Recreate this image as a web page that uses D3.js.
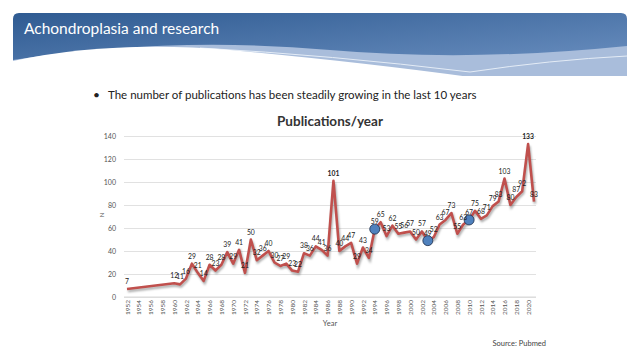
<!DOCTYPE html>
<html>
<head>
<meta charset="utf-8">
<script src="https://cdn.jsdelivr.net/npm/d3@7"></script>
<style>
  body { margin: 0; background: #fff; }
  svg { display: block; font-family: Lato, "Open Sans", sans-serif; }
</style>
</head>
<body>
<svg id="slide" width="640" height="351"></svg>
<script>
// publications per year (Pubmed)
const years = [1952, 1960, 1961, 1962, 1963, 1964, 1965, 1966, 1967, 1968, 1969, 1970,
  1971, 1972, 1973, 1974, 1975, 1976, 1977, 1978, 1979, 1980, 1981, 1982, 1983, 1984,
  1985, 1986, 1987, 1988, 1989, 1990, 1991, 1992, 1993, 1994, 1995, 1996, 1997, 1998,
  1999, 2000, 2001, 2002, 2003, 2004, 2005, 2006, 2007, 2008, 2009, 2010, 2011, 2012,
  2013, 2014, 2015, 2016, 2017, 2018, 2019, 2020, 2021];
const counts = [7, 12, 11, 16, 29, 21, 14, 28, 23, 28, 39, 29,
  41, 21, 50, 32, 36, 40, 30, 27, 29, 23, 22, 38, 36, 44,
  41, 36, 101, 40, 44, 47, 29, 43, 34, 59, 65, 53, 62, 55,
  56, 57, 50, 57, 49, 52, 63, 67, 73, 55, 63, 67, 75, 68,
  71, 79, 83, 103, 80, 87, 92, 133, 83];
const highlightYears = [1994, 2003, 2010];
const yTicks = [0, 20, 40, 60, 80, 100, 120, 140];
const xTicks = d3.range(1952, 2021, 2);

const data = years.map((y, i) => ({ year: y, n: counts[i] }));

const svg = d3.select("#slide");

// ---- header banner ----
const defs = svg.append("defs");
const grad = defs.append("linearGradient").attr("id", "bannerGrad")
  .attr("x1", "0").attr("y1", "0").attr("x2", "1").attr("y2", "1");
grad.append("stop").attr("offset", "0%").attr("stop-color", "#2f5b92");
grad.append("stop").attr("offset", "100%").attr("stop-color", "#7094c4");

const blur = defs.append("filter").attr("id", "shadow");
blur.append("feGaussianBlur").attr("stdDeviation", 1.2);

svg.append("path")
  .attr("d", "M13,76 L13,19 Q13,13 19,13 L621,13 Q627,13 627,19 L627,76 Z")
  .attr("fill", "url(#bannerGrad)");
svg.append("path")
  .attr("d", "M13,76 L13,60 Q170,36 330,50 Q470,62 627,46 L627,76 Z")
  .attr("fill", "#a9bddb");
svg.append("path")
  .attr("d", "M200,48 Q330,55 470,72 Q550,60 627,56")
  .attr("fill", "none").attr("stroke", "#e4ecf6").attr("stroke-width", 1);
svg.append("path")
  .attr("d", "M13,77 L13,61 Q110,40 230,50 Q360,62 470,77 Z")
  .attr("fill", "#fff");
svg.append("rect").attr("x", 0).attr("y", 76).attr("width", 640).attr("height", 10).attr("fill", "#fff");

svg.append("text")
  .attr("x", 24).attr("y", 34)
  .attr("fill", "#fff")
  .style("font-size", "15.5px")
  .text("Achondroplasia and research");

// bullet
svg.append("text").attr("x", 93).attr("y", 99)
  .style("font-size", "12px").attr("fill", "#222").text("•");
svg.append("text").attr("x", 108).attr("y", 99)
  .style("font-size", "11.5px").attr("fill", "#222")
  .text("The number of publications has been steadily growing in the last 10 years");

// ---- chart ----
const x = d3.scaleLinear().domain([1952, 2021]).range([127, 534]);
const y = d3.scaleLinear().domain([0, 140]).range([297, 136]);

svg.append("text")
  .attr("x", 330).attr("y", 126)
  .attr("text-anchor", "middle")
  .style("font-size", "13.5px").style("font-weight", "bold").attr("fill", "#333")
  .text("Publications/year");

// gridlines + y labels
const yAxis = svg.append("g")
  .attr("transform", "translate(124,0)")
  .call(d3.axisLeft(y).tickValues(yTicks).tickSize(-412).tickPadding(8))
  .attr("font-family", "Lato, sans-serif");
yAxis.select(".domain").remove();
yAxis.selectAll(".tick line").attr("stroke", "#d9d9d9").attr("stroke-width", 0.8);
yAxis.selectAll(".tick text").style("font-size", "7px").attr("fill", "#555");

svg.append("text")
  .attr("transform", "translate(104,215) rotate(-90)")
  .attr("text-anchor", "middle")
  .style("font-size", "6px").attr("fill", "#555").text("N");

// x axis
const xAxis = svg.append("g")
  .attr("transform", "translate(0,297)")
  .call(d3.axisBottom(x).tickValues(xTicks).tickFormat(d3.format("d")).tickSize(0))
  .attr("font-family", "Lato, sans-serif");
xAxis.select(".domain").attr("d", "M124,0H536").attr("stroke", "#d9d9d9");
xAxis.selectAll(".tick text")
  .style("font-size", "6.5px").attr("fill", "#555")
  .attr("transform", "rotate(-90)")
  .attr("text-anchor", "end")
  .attr("x", -3).attr("y", 0).attr("dy", "0.32em");

svg.append("text")
  .attr("x", 330).attr("y", 326).attr("text-anchor", "middle")
  .style("font-size", "7.5px").attr("fill", "#555").text("Year");

// line with a soft shadow
const line = d3.line().x(d => x(d.year)).y(d => y(d.n));
svg.append("path").datum(data)
  .attr("d", line)
  .attr("transform", "translate(1,2)")
  .attr("fill", "none").attr("stroke", "rgba(0,0,0,0.35)").attr("stroke-width", 2.5)
  .attr("filter", "url(#shadow)");
svg.append("path").datum(data)
  .attr("d", line)
  .attr("fill", "none").attr("stroke", "#c0504d").attr("stroke-width", 2.6)
  .attr("stroke-linejoin", "round");

// highlighted points
svg.selectAll(".hl")
  .data(data.filter(d => highlightYears.includes(d.year)))
  .enter().append("circle")
  .attr("class", "hl")
  .attr("cx", d => x(d.year)).attr("cy", d => y(d.n)).attr("r", 5)
  .attr("fill", "#4f81bd").attr("stroke", "#1f2f4a").attr("stroke-width", 0.8);

// data labels
svg.selectAll(".lbl")
  .data(data)
  .enter().append("text")
  .attr("class", "lbl")
  .attr("x", d => x(d.year)).attr("y", d => y(d.n) - 5)
  .attr("text-anchor", "middle")
  .style("font-size", "6.8px").attr("fill", "#222")
  .style("font-weight", d => d.year === 1987 || d.year === 2020 ? "bold" : "normal")
  .text(d => d.n);

svg.append("text")
  .attr("x", 546).attr("y", 346).attr("text-anchor", "end")
  .style("font-size", "7.5px").attr("fill", "#444").text("Source: Pubmed");
</script>
</body>
</html>
